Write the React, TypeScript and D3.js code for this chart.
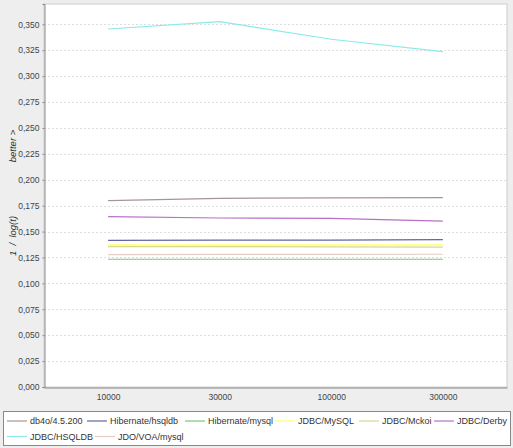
// @ts-nocheck
import * as d3 from 'd3';
import React, { useEffect, useRef } from 'react';

const categories = ['10000', '30000', '100000', '300000'];

const db4o = [0.1798, 0.1821, 0.1825, 0.1827];
const hibernateHsqldb = [0.1415, 0.1418, 0.1418, 0.1422];
const hibernateMysql = [0.1233, 0.1233, 0.1233, 0.1233];
const jdbcMysql = [0.137, 0.137, 0.1371, 0.1371];
const jdbcMckoi = [0.1355, 0.1355, 0.1352, 0.1349];
const jdbcDerby = [0.1644, 0.1631, 0.1627, 0.16];
const jdbcHsqldb = [0.3455, 0.3526, 0.3356, 0.3237];
const jdoVoaMysql = [0.1277, 0.1279, 0.128, 0.1281];

const seriesNames = [
  'db4o/4.5.200',
  'Hibernate/hsqldb',
  'Hibernate/mysql',
  'JDBC/MySQL',
  'JDBC/Mckoi',
  'JDBC/Derby',
  'JDBC/HSQLDB',
  'JDO/VOA/mysql',
];
const seriesValues = [db4o, hibernateHsqldb, hibernateMysql, jdbcMysql, jdbcMckoi, jdbcDerby, jdbcHsqldb, jdoVoaMysql];
const yTicks = [0, 0.025, 0.05, 0.075, 0.1, 0.125, 0.15, 0.175, 0.2, 0.225, 0.25, 0.275, 0.3, 0.325, 0.35];

const colors = ['#a89496', '#6464a4', '#78c878', '#ffff70', '#d8d890', '#b870c8', '#8aeaea', '#e4cec6'];
// legend layout: [row, lineStart] per item
const legendPos = [
  [0, 7], [0, 87], [0, 185], [0, 275], [0, 359], [0, 434],
  [1, 7], [1, 95],
];

const W = 513;
const H = 448;
const FONT = '"Liberation Sans", Arial, sans-serif';

export default function App() {
  const svgRef = useRef(null);

  useEffect(() => {
    document.body.style.margin = '0';
    const svg = d3.select(svgRef.current);
    svg.selectAll('*').remove();

    const plot = { left: 44, top: 4, right: 507, bottom: 387 };

    svg.append('rect').attr('width', W).attr('height', H).attr('fill', '#eeeeee');
    svg.append('rect')
      .attr('x', plot.left).attr('y', plot.top)
      .attr('width', plot.right - plot.left).attr('height', plot.bottom - plot.top)
      .attr('fill', '#ffffff').attr('stroke', '#cccccc');

    const x = d3.scalePoint().domain(categories).range([plot.left, plot.right]).padding(0.575);
    const y = d3.scaleLinear().domain([0, 0.3696]).range([plot.bottom, plot.top]);

    // gridlines
    svg.append('g').selectAll('line').data(yTicks.slice(1)).enter().append('line')
      .attr('x1', plot.left).attr('x2', plot.right)
      .attr('y1', d => Math.round(y(d)) + 0.5).attr('y2', d => Math.round(y(d)) + 0.5)
      .attr('stroke', '#dedede').attr('stroke-dasharray', '2,2');

    // axes
    const fmt = d => d3.format('.3f')(d).replace('.', ',');
    const yAxis = svg.append('g')
      .attr('transform', `translate(${plot.left + 0.5},0)`)
      .call(d3.axisLeft(y).tickValues(yTicks).tickFormat(fmt).tickSize(2).tickPadding(3));
    yAxis.select('.domain').attr('stroke', '#888');
    yAxis.selectAll('.tick line').attr('stroke', '#888');
    yAxis.selectAll('text').attr('fill', '#444').style('font-family', FONT).style('font-size', '8.5px');

    const xAxis = svg.append('g')
      .attr('transform', `translate(0,${plot.bottom + 0.5})`)
      .call(d3.axisBottom(x).tickSize(0).tickPadding(6));
    xAxis.select('.domain').attr('stroke', '#888');
    xAxis.selectAll('text').attr('fill', '#444').style('font-family', FONT).style('font-size', '8.5px');

    // y axis labels
    svg.append('text')
      .attr('transform', 'translate(16,146) rotate(-90)')
      .attr('text-anchor', 'middle')
      .style('font-family', FONT).style('font-size', '9.5px').style('font-style', 'italic')
      .attr('fill', '#333')
      .text('better >');
    svg.append('text')
      .attr('transform', 'translate(16,236) rotate(-90)')
      .attr('text-anchor', 'middle')
      .style('font-family', FONT).style('font-size', '9.5px').style('font-style', 'italic')
      .attr('fill', '#333')
      .attr('xml:space', 'preserve')
      .text('1  /  log(t)');

    // series lines
    const line = d3.line().x((d, i) => x(categories[i])).y(d => y(d));
    const order = [0, 1, 2, 4, 3, 5, 7, 6];
    order.forEach(i => {
      svg.append('path')
        .datum(seriesValues[i])
        .attr('fill', 'none')
        .attr('stroke', colors[i])
        .attr('stroke-width', i === 3 ? 1.6 : 1.2)
        .attr('d', line);
    });

    // legend
    svg.append('rect')
      .attr('x', 3.5).attr('y', 411.5).attr('width', 507).attr('height', 34)
      .attr('fill', '#ffffff').attr('stroke', '#888');
    const rowY = [421, 436.5];
    seriesNames.forEach((name, i) => {
      const [row, lx] = legendPos[i];
      const ly = rowY[row];
      svg.append('line')
        .attr('x1', lx).attr('x2', lx + 20)
        .attr('y1', ly).attr('y2', ly)
        .attr('stroke', colors[i]).attr('stroke-width', 1.2);
      svg.append('text')
        .attr('x', lx + 23).attr('y', ly).attr('dy', '0.35em')
        .style('font-family', FONT).style('font-size', '9px')
        .attr('fill', '#333')
        .text(name);
    });
  }, []);

  return <svg ref={svgRef} width={W} height={H} style={{ display: 'block' }} />;
}
